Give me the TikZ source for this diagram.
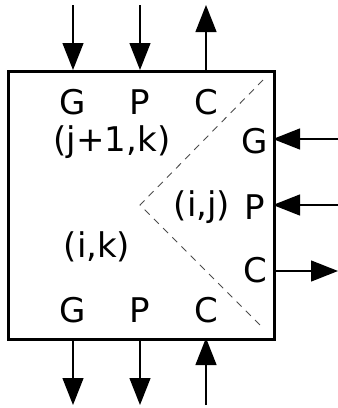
\documentclass[tikz,border=0pt]{standalone}
\usepackage{fontspec}
\setmainfont{DejaVu Sans}
\usetikzlibrary{arrows.meta}
\begin{document}
\begin{tikzpicture}[x=1pt,y=-1pt,
  sig/.style={line width=1.3pt,-{Triangle[length=27pt,width=21pt]}},
  lbl/.style={font=\fontsize{34}{39}\selectfont,inner sep=0pt},
  box/.style={draw,line width=3.4pt}]
\useasboundingbox (0,0) rectangle (338,408);
\node[box,minimum width=266pt,minimum height=268pt,anchor=north west] (blk) at (7,70) {};
% labels
\node[lbl] (tg) at (73,102) {G};
\node[lbl] (tp) at (140,102) {P};
\node[lbl] (tc) at (206,102) {C};
\node[lbl] (jk) at (112,142) {(j+1,k)};
\node[lbl] (rg) at (255,141) {G};
\node[lbl] (ij) at (202,207) {(i,j)};
\node[lbl] (rp) at (255,207) {P};
\node[lbl] (ik) at (97,247) {(i,k)};
\node[lbl] (rc) at (255,270) {C};
\node[lbl] (bg) at (73,310) {G};
\node[lbl] (bp) at (140,310) {P};
\node[lbl] (bc) at (206,310) {C};
% connector endpoints
\coordinate (a1) at (73,5);  \coordinate (a1b) at (73,70);
\coordinate (a2) at (140,5); \coordinate (a2b) at (140,70);
\coordinate (a3) at (206,5); \coordinate (a3b) at (206,70);
\coordinate (b1) at (73,338);  \coordinate (b1b) at (73,405);
\coordinate (b2) at (140,338); \coordinate (b2b) at (140,405);
\coordinate (b3) at (206,338); \coordinate (b3b) at (206,405);
\coordinate (r1) at (273,139); \coordinate (r1b) at (338,139);
\coordinate (r2) at (273,205); \coordinate (r2b) at (338,205);
\coordinate (r3) at (273,271); \coordinate (r3b) at (338,271);
\draw[sig] (a1) -- (a1b);
\draw[sig] (a2) -- (a2b);
\draw[sig] (a3b) -- (a3);
\draw[sig] (b1) -- (b1b);
\draw[sig] (b2) -- (b2b);
\draw[sig] (b3b) -- (b3);
\draw[sig] (r1b) -- (r1);
\draw[sig] (r2b) -- (r2);
\draw[sig] (r3) -- (r3b);
% dashed divider
\coordinate (d1) at (263,80);
\coordinate (d2) at (140,205);
\coordinate (d3) at (263,328);
\draw[line width=0.9pt,gray!60!black,dash pattern=on 7pt off 6pt] (d1) -- (d2) -- (d3);
\end{tikzpicture}
\end{document}
